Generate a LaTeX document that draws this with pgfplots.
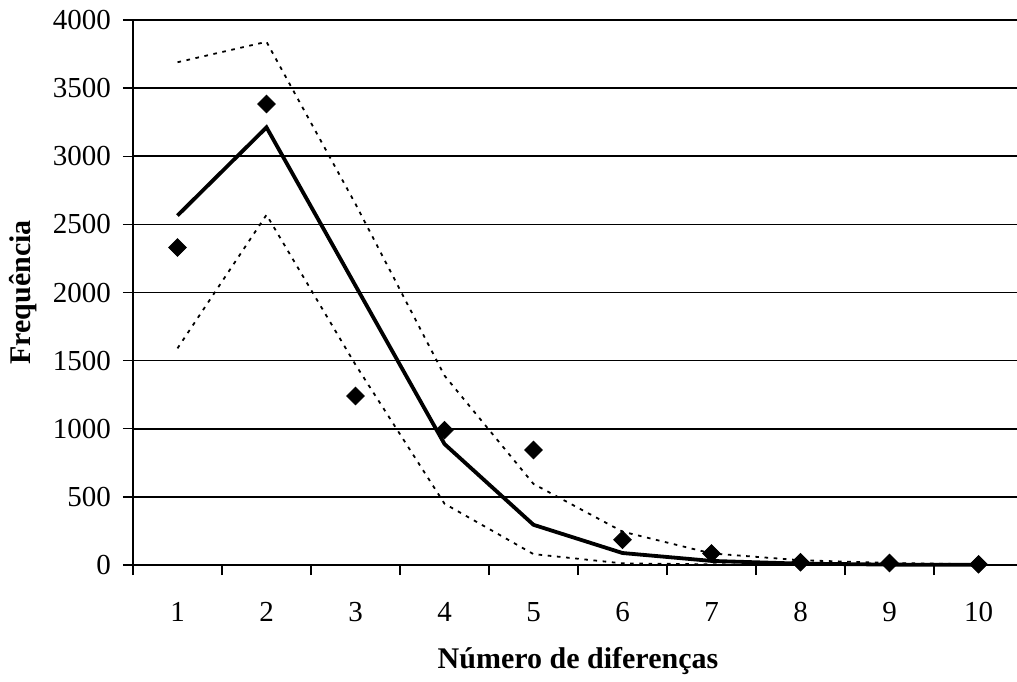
\documentclass[border=0pt]{standalone}
\usepackage{pgfplots}
\pgfplotsset{compat=1.18}
\usepackage{fontspec}
\setmainfont{Liberation Serif}
\begin{document}
\begin{tikzpicture}
\begin{axis}[
  at={(0,0)}, anchor=south west,
  scale only axis, width=445pt, height=272.5pt,
  xmin=0.5, xmax=10.5, ymin=0, ymax=4000,
  ytick={0,500,...,4000},
  xtick={0.5,1.5,...,9.5}, xticklabels={},
  extra x ticks={1,2,...,10},
  extra x tick labels={1,2,3,4,5,6,7,8,9,10},
  extra x tick style={major tick length=0pt, grid=none},
  axis x line*=bottom, axis y line*=left,
  axis line style={line width=0.8pt, -},
  tick align=outside, major tick length=5pt,
  tick style={black, line width=0.7pt},
  ymajorgrids, grid style={black, line width=0.85pt},
  clip=false,
  /pgf/number format/assume math mode=true,
  /pgf/number format/1000 sep={},
  tick label style={font=\fontsize{14.5}{16}\selectfont},
  xticklabel style={yshift=-15pt},
  yticklabel style={xshift=-2.5pt},
  xlabel={\textbf{Número de diferenças}},
  ylabel={\textbf{Frequência}},
  xlabel style={font=\fontsize{15}{17}\selectfont, at={(axis description cs:0.5,0)}, anchor=center, yshift=-48pt},
  ylabel style={font=\fontsize{15}{17}\selectfont, at={([xshift=-55pt]axis description cs:0,0.5)}, anchor=center},
]
\addplot[black, line width=0.9pt, dash pattern=on 1.8pt off 2.8pt] coordinates {
 (1,1590) (2,2570) (3,1470) (4,450) (5,80) (6,12) (7,5) (8,2) (9,1) (10,0)};
\addplot[black, line width=0.9pt, dash pattern=on 1.8pt off 2.8pt] coordinates {
 (1,3690) (2,3840) (3,2650) (4,1390) (5,595) (6,245) (7,85) (8,35) (9,15) (10,5)};
\addplot[black, line width=1.9pt] coordinates {
 (1,2565) (2,3212) (3,2050) (4,888) (5,295) (6,88) (7,30) (8,10) (9,3) (10,1)};
\addplot[only marks, mark=square*, mark size=3.1pt, mark options={rotate=45, black, fill=black}] coordinates {
 (1,2330) (2,3383) (3,1240) (4,990) (5,844) (6,185) (7,85) (8,20) (9,15) (10,5)};
\end{axis}
\pgfresetboundingbox
\path (-66.5pt,-58pt) rectangle (442pt,282.5pt);
\end{tikzpicture}
\end{document}
